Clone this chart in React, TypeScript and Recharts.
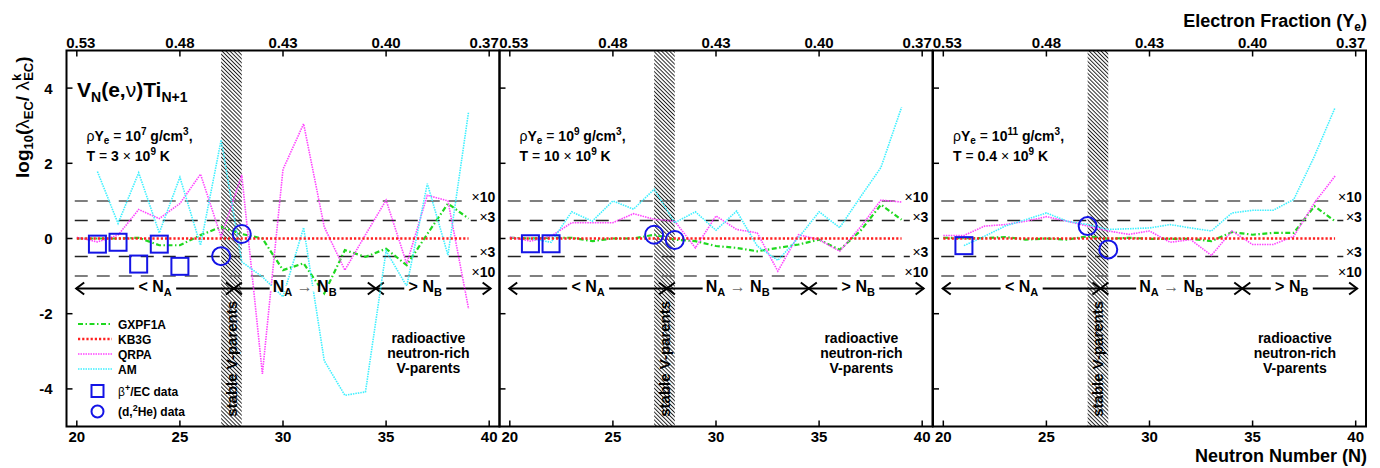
import React from "react";
import {
  ComposedChart,
  Line,
  ReferenceArea,
  ReferenceDot,
  ReferenceLine,
  XAxis,
  YAxis,
} from "recharts";

// neutron number of the V parent
const NEUTRONS = [20, 21, 22, 23, 24, 25, 26, 27, 28, 29, 30, 31, 32, 33, 34, 35, 36, 37, 38, 39];
const N_TICKS = [20, 25, 30, 35, 40];
const YE_TICK_LABELS = ["0.53", "0.48", "0.43", "0.40", "0.37"];
const Y_TICKS = [-4, -2, 0, 2, 4];

// KB3G is the reference (k), so its ratio is flat
const KB3G = [0, 0, 0, 0, 0, 0, 0, 0, 0, 0, 0, 0, 0, 0, 0, 0, 0, 0, 0, 0];

// panel 1: rhoYe = 1e7 g/cm3, T = 3e9 K
const GXPF1A_P1 = [0, 0, 0, 0.02, -0.18, -0.18, 0.09, 0.31, 0.12, 0, -0.84, -0.66, -1.46, -0.31, -0.49, -0.27, -0.71, 0.12, 0.93, 0.53];
const QRPA_P1 = [0.03, -0.09, 0.09, 0.77, 0.53, 0.93, 1.71, 0.04, 1.69, -3.6, 1.84, 3.05, 0.31, -0.84, 0.1, 1.02, -0.67, 1.15, 1.0, -1.87];
const AM_P1 = [null, 1.78, 0.4, 1.75, 0.15, 1.63, -0.18, 2.62, -0.62, -1.02, -1.55, 0.29, -3.25, -4.17, -4.08, -0.33, -1.27, 1.46, -0.44, 3.37];
const BETA_N_P1 = [21, 22, 23, 24, 25];
const BETA_P1 = [-0.15, -0.1, -0.68, -0.15, -0.74];
const DHE_N = [27, 28];
const DHE_P1 = [-0.47, 0.12];

// panel 2: rhoYe = 1e9 g/cm3, T = 10e9 K
const GXPF1A_P2 = [0.02, 0, 0.02, 0.02, -0.07, 0, 0, 0.1, -0.03, -0.07, -0.2, -0.25, -0.34, -0.25, -0.16, -0.03, -0.3, 0.2, 0.9, 0.5];
const QRPA_P2 = [0.04, -0.07, 0.06, 0.42, 0.42, 0.42, 0.66, 0.51, 0.46, -0.25, 0.6, 0.24, 0.15, -0.87, 0.1, -0.03, -0.34, 0.3, 1.02, 0.97];
const AM_P2 = [null, 0, -0.1, 0.71, 0.46, 1.0, 0.78, 1.31, 0.42, 0.71, 0.22, 0.73, -0.2, -0.58, 0.02, 0.71, 0.29, 1.1, 1.89, 3.49];
const BETA_N_P2 = [21, 22];
const BETA_P2 = [-0.14, -0.14];
const DHE_P2 = [0.1, -0.04];

// panel 3: rhoYe = 1e11 g/cm3, T = 0.4e9 K
const GXPF1A_P3 = [0.02, 0.01, 0.01, 0.04, -0.03, 0, -0.03, 0.06, -0.01, 0.02, -0.01, -0.01, -0.01, -0.07, 0.17, 0.1, 0.15, 0.15, 0.86, 0.46];
const QRPA_P3 = [0.08, 0.08, 0.33, 0.37, 0.46, 0.58, 0.46, 0.33, 0.2, 0.11, 0.2, -0.1, -0.03, -0.45, 0.2, -0.16, -0.16, 0.06, 0.95, 1.66];
const AM_P3 = [null, -0.19, 0.06, 0.33, 0.5, 0.68, 0.46, 0.37, 0.24, 0.26, 0.28, 0.37, 0.28, 0.2, 0.68, 0.75, 0.75, 1.04, 2.19, 3.48];
const BETA_N_P3 = [21];
const BETA_P3 = [-0.19];
const DHE_P3 = [0.33, -0.29];

const DENSITY_EXP = ["7", "9", "11"];
const TEMP_T9 = ["3", "10", "0.4"];

const W = 1380;
const H = 468;
const PLOT_TOP = 50.5;
const PLOT_BOTTOM = 426.5;
const PANEL_W = 433;
const PANEL_LEFTS = [66.5, 499.5, 933];
const Y_AXIS_W = 50;

const FONT = "'Liberation Sans', Arial, Helvetica, sans-serif";
const GREEN = "#1fd81f";
const RED = "#ff2020";
const MAGENTA = "#ff45ff";
const CYAN = "#3ff0ff";
const BLUE = "#1414e6";

const LOG3 = Math.log10(3);
const ARROW_Y = -1.33;

const GX_DASH = "5 2.5 1.5 2.5";
const DOT_DASH = "1.5 1";
const KB_DASH = "2.2 2";

const BottomTick = (props: any) => {
  const { x, y, payload } = props;
  return (
    <g>
      <line x1={x} x2={x} y1={y} y2={y - 6} stroke="#000" strokeWidth={1.5} />
      <text x={x} y={y + 15.5} textAnchor="middle" fontFamily={FONT} fontWeight="bold" fontSize={15} fill="#000">
        {payload.value}
      </text>
    </g>
  );
};

// the outermost Ye labels are nudged inwards so neighbouring panels don't collide
const TopTick = (props: any) => {
  const { x, y, payload } = props;
  const i = N_TICKS.indexOf(payload.value);
  const nudge = i === 0 ? 4 : i === N_TICKS.length - 1 ? -5 : 0;
  return (
    <g>
      <line x1={x} x2={x} y1={y} y2={y + 6} stroke="#000" strokeWidth={1.5} />
      <text x={x + nudge} y={y - 3} textAnchor="middle" fontFamily={FONT} fontWeight="bold" fontSize={15} fill="#000">
        {YE_TICK_LABELS[i]}
      </text>
    </g>
  );
};

const leftTick = (labeled: boolean) => (props: any) => {
  const { x, y, payload } = props;
  return (
    <g>
      <line x1={x} x2={x + 6} y1={y} y2={y} stroke="#000" strokeWidth={1.5} />
      {labeled && (
        <text x={x - 14} y={y} dy="0.36em" textAnchor="end" fontFamily={FONT} fontWeight="bold" fontSize={15} fill="#000">
          {payload.value}
        </text>
      )}
    </g>
  );
};

const SquareDot = (props: any) => {
  const { cx, cy, index } = props;
  if (cy == null || Number.isNaN(cy)) return <g key={index} />;
  return <rect key={index} x={cx - 8.5} y={cy - 8.5} width={17} height={17} fill="none" stroke={BLUE} strokeWidth={2} />;
};

const CircleDot = (props: any) => {
  const { cx, cy, index } = props;
  if (cy == null || Number.isNaN(cy)) return <g key={index} />;
  return <circle key={index} cx={cx} cy={cy} r={9} fill="none" stroke={BLUE} strokeWidth={2} />;
};

// double-headed arrow drawn between the segment ends
const ArrowLine = (props: any) => {
  const { x1, y1, x2, y2 } = props;
  const L = 8;
  const h = 6;
  return (
    <g stroke="#000" strokeWidth={2} fill="none">
      <line x1={x1} y1={y1} x2={x2} y2={y2} />
      <polyline points={`${x1 + L},${y1 - h} ${x1},${y1} ${x1 + L},${y1 + h}`} />
      <polyline points={`${x2 - L},${y2 - h} ${x2},${y2} ${x2 - L},${y2 + h}`} />
    </g>
  );
};

const rowLabel = (kind: "lt" | "mid" | "gt") => (props: any) => {
  const { cx, cy } = props;
  const w = kind === "mid" ? 70 : 42;
  return (
    <g fontFamily={FONT} fontWeight="bold" fill="#000">
      <rect x={cx - w / 2} y={cy - 2.5} width={w} height={5} fill="#fff" />
      <text x={cx} y={cy + 3.5} textAnchor="middle" fontSize={16}>
        {kind === "lt" && (
          <>
            {"< N"}
            <tspan dy={4} fontSize={11}>A</tspan>
          </>
        )}
        {kind === "gt" && (
          <>
            {"> N"}
            <tspan dy={4} fontSize={11}>B</tspan>
          </>
        )}
        {kind === "mid" && (
          <>
            {"N"}
            <tspan dy={4} fontSize={11}>A</tspan>
            <tspan dy={-4} fontWeight="normal" fill="#666">{" \u2192 "}</tspan>
            <tspan>N</tspan>
            <tspan dy={4} fontSize={11}>B</tspan>
          </>
        )}
      </text>
    </g>
  );
};

const factorLabel = (text: string) => (props: any) => {
  const { cx, cy } = props;
  const [mul, num] = [text.slice(0, 1), text.slice(1)];
  return (
    <text x={cx} y={cy - 4} dy="0.36em" textAnchor="end" fontFamily={FONT} fontSize={14} fill="#000">
      <tspan fontWeight="normal">{mul}</tspan>
      <tspan fontWeight="bold">{num}</tspan>
    </text>
  );
};

const StableLabel = (props: any) => {
  const { cx, cy } = props;
  return (
    <text
      transform={`translate(${cx + 5.5}, ${cy}) rotate(-90)`}
      textAnchor="middle"
      fontFamily={FONT}
      fontWeight="bold"
      fontSize={15}
      fill="#000"
    >
      stable V-parents
    </text>
  );
};

const RadioactiveLabel = (props: any) => {
  const { cx, cy } = props;
  return (
    <text textAnchor="middle" fontFamily={FONT} fontWeight="bold" fontSize={14} fill="#000">
      <tspan x={cx} y={cy - 10.5}>radioactive</tspan>
      <tspan x={cx} y={cy + 4.5}>neutron-rich</tspan>
      <tspan x={cx} y={cy + 19.5}>V-parents</tspan>
    </text>
  );
};

const FACTOR_LINES = [
  { v: 1, end: 39.0, label: "\u00d710", color: "#555" },
  { v: LOG3, end: 39.4, label: "\u00d73", color: "#222" },
  { v: -LOG3, end: 39.4, label: "\u00d73", color: "#222" },
  { v: -1, end: 39.0, label: "\u00d710", color: "#555" },
];

// arrowheads of neighbouring segments meet and form the X marks
const ARROW_SEGMENTS = [
  [19.97, 27.62],
  [27.62, 34.5],
  [34.5, 40.07],
];

type PanelProps = {
  index: number;
  gx: number[];
  qr: number[];
  am: (number | null)[];
  betaN: number[];
  beta: number[];
  dhe: number[];
};

const Panel = ({ index, gx, qr, am, betaN, beta, dhe }: PanelProps) => {
  const left = PANEL_LEFTS[index];
  const data = NEUTRONS.map((n, i) => {
    const b = betaN.indexOf(n);
    const d = DHE_N.indexOf(n);
    return {
      N: n,
      gx: gx[i],
      kb: KB3G[i],
      qr: qr[i],
      am: am[i],
      beta: b >= 0 ? beta[b] : null,
      dhe: d >= 0 ? dhe[d] : null,
    };
  });
  const hatchId = `hatch-${index}`;

  return (
    <div style={{ position: "absolute", left: 0, top: 0 }}>
      <ComposedChart
        width={W}
        height={H}
        data={data}
        margin={{ top: 0, bottom: 0, left: left - Y_AXIS_W, right: W - left - PANEL_W }}
      >
        <defs>
          <pattern id={hatchId} patternUnits="userSpaceOnUse" width={2.8} height={2.8} patternTransform="rotate(-45)">
            <rect width={2.8} height={2.8} fill="#fff" />
            <line x1={0.5} y1={0} x2={0.5} y2={2.8} stroke="#000" strokeWidth={0.85} />
          </pattern>
        </defs>
        <XAxis
          dataKey="N"
          type="number"
          domain={[19.5, 40.5]}
          ticks={N_TICKS}
          interval={0}
          allowDataOverflow
          height={H - PLOT_BOTTOM}
          axisLine={false}
          tickLine={false}
          tickSize={0}
          tickMargin={0}
          tick={BottomTick}
        />
        <XAxis
          xAxisId="top"
          orientation="top"
          dataKey="N"
          type="number"
          domain={[19.5, 40.5]}
          ticks={N_TICKS}
          interval={0}
          allowDataOverflow
          height={PLOT_TOP}
          axisLine={false}
          tickLine={false}
          tickSize={0}
          tickMargin={0}
          tick={TopTick}
        />
        <YAxis
          type="number"
          domain={[-5, 5]}
          ticks={Y_TICKS}
          interval={0}
          allowDataOverflow
          width={Y_AXIS_W}
          axisLine={false}
          tickLine={false}
          tickSize={0}
          tickMargin={0}
          tick={leftTick(index === 0)}
        />

        <ReferenceArea x1={27} x2={28} y1={-5} y2={5} fill={`url(#${hatchId})`} fillOpacity={1} stroke="none" />
        <ReferenceArea x1={19.5} x2={40.5} y1={-5} y2={5} fill="none" stroke="#000" strokeWidth={2} />

        {FACTOR_LINES.map((f, i) => (
          <ReferenceLine
            key={`f${i}`}
            segment={[{ x: 19.9, y: f.v }, { x: f.end, y: f.v }]}
            stroke={f.color}
            strokeWidth={1.5}
            strokeDasharray="13 9"
          />
        ))}
        {FACTOR_LINES.map((f, i) => (
          <ReferenceDot key={`fl${i}`} x={40.3} y={f.v} shape={factorLabel(f.label)} />
        ))}

        {ARROW_SEGMENTS.map(([a, b], i) => (
          <ReferenceLine key={`a${i}`} segment={[{ x: a, y: ARROW_Y }, { x: b, y: ARROW_Y }]} shape={ArrowLine} />
        ))}
        <ReferenceDot x={23.8} y={ARROW_Y} shape={rowLabel("lt")} />
        <ReferenceDot x={31.05} y={ARROW_Y} shape={rowLabel("mid")} />
        <ReferenceDot x={36.9} y={ARROW_Y} shape={rowLabel("gt")} />
        <ReferenceDot x={27.5} y={-3.2} shape={StableLabel} />
        <ReferenceDot x={37.05} y={-3.07} shape={RadioactiveLabel} />

        <Line dataKey="gx" stroke={GREEN} strokeWidth={2.2} strokeDasharray={GX_DASH} dot={false} isAnimationActive={false} />
        <Line dataKey="qr" stroke={MAGENTA} strokeWidth={1.6} strokeDasharray={DOT_DASH} dot={false} isAnimationActive={false} />
        <Line dataKey="am" stroke={CYAN} strokeWidth={1.6} strokeDasharray={DOT_DASH} dot={false} connectNulls={false} isAnimationActive={false} />
        <Line dataKey="kb" stroke={RED} strokeWidth={2.5} strokeDasharray={KB_DASH} dot={false} isAnimationActive={false} />
        <Line dataKey="beta" stroke="none" dot={SquareDot} activeDot={false} isAnimationActive={false} />
        <Line dataKey="dhe" stroke="none" dot={CircleDot} activeDot={false} isAnimationActive={false} />
      </ComposedChart>
    </div>
  );
};

const PANELS: PanelProps[] = [
  { index: 0, gx: GXPF1A_P1, qr: QRPA_P1, am: AM_P1, betaN: BETA_N_P1, beta: BETA_P1, dhe: DHE_P1 },
  { index: 1, gx: GXPF1A_P2, qr: QRPA_P2, am: AM_P2, betaN: BETA_N_P2, beta: BETA_P2, dhe: DHE_P2 },
  { index: 2, gx: GXPF1A_P3, qr: QRPA_P3, am: AM_P3, betaN: BETA_N_P3, beta: BETA_P3, dhe: DHE_P3 },
];

const LEGEND = [
  { name: "GXPF1A", color: GREEN, dash: GX_DASH, width: 2.2 },
  { name: "KB3G", color: RED, dash: KB_DASH, width: 2.5 },
  { name: "QRPA", color: MAGENTA, dash: DOT_DASH, width: 1.6 },
  { name: "AM", color: CYAN, dash: DOT_DASH, width: 1.6 },
];

const Overlay = () => (
  <svg
    width={W}
    height={H}
    style={{ position: "absolute", left: 0, top: 0, pointerEvents: "none" }}
    fontFamily={FONT}
    fontWeight="bold"
    fill="#000"
  >
    <text transform="translate(29, 178) rotate(-90)" fontSize={19}>
      log<tspan dy={4} fontSize={13}>10</tspan>
      <tspan dy={-4}>(</tspan>
      <tspan fontWeight="normal">λ</tspan>
      <tspan dy={4} fontSize={13}>EC</tspan>
      <tspan dy={-4}>/ </tspan>
      <tspan fontWeight="normal">λ</tspan>
      <tspan dy={-8} fontSize={13}>k</tspan>
      <tspan dx={-7} dy={12} fontSize={13}>EC</tspan>
      <tspan dy={-4}>)</tspan>
    </text>

    <text x={1367} y={27} textAnchor="end" fontSize={18}>
      Electron Fraction (Y<tspan dy={4} fontSize={12}>e</tspan>
      <tspan dy={-4}>)</tspan>
    </text>
    <text x={1367} y={462} textAnchor="end" fontSize={18}>
      Neutron Number (N)
    </text>

    <text x={77} y={97} fontSize={21}>
      V<tspan dy={5} fontSize={14}>N</tspan>
      <tspan dy={-5}>(e,</tspan>
      <tspan fontWeight="normal">ν</tspan>
      <tspan>)Ti</tspan>
      <tspan dy={5} fontSize={14}>N+1</tspan>
    </text>

    {PANEL_LEFTS.map((l, i) => (
      <g key={i}>
        <text x={l + 20} y={141} fontSize={14}>
          <tspan fontWeight="normal">ρ</tspan>Y<tspan dy={3} fontSize={10}>e</tspan>
          <tspan dy={-3} fontWeight="normal">{" = "}</tspan>10<tspan dy={-6} fontSize={10}>{DENSITY_EXP[i]}</tspan>
          <tspan dy={6}> g/cm</tspan>
          <tspan dy={-6} fontSize={10}>3</tspan>
          <tspan dy={6}>,</tspan>
        </text>
        <text x={l + 20} y={161} fontSize={14}>
          T<tspan fontWeight="normal">{" = "}</tspan>
          {TEMP_T9[i]}
          <tspan fontWeight="normal">{" \u00d7 "}</tspan>10<tspan dy={-6} fontSize={10}>9</tspan>
          <tspan dy={6}> K</tspan>
        </text>
      </g>
    ))}

    {LEGEND.map((e, i) => (
      <g key={e.name}>
        <line x1={78} x2={112} y1={324 + i * 15} y2={324 + i * 15} stroke={e.color} strokeWidth={e.width} strokeDasharray={e.dash} />
        <text x={118} y={328.5 + i * 15} fontSize={12}>
          {e.name}
        </text>
      </g>
    ))}
    <rect x={91.5} y={385} width={12} height={12} fill="none" stroke={BLUE} strokeWidth={2} />
    <text x={118} y={396} fontSize={12}>
      <tspan fontWeight="normal">β</tspan>
      <tspan dy={-5} fontSize={9}>+</tspan>
      <tspan dy={5}>/EC data</tspan>
    </text>
    <circle cx={97.5} cy={411.5} r={6} fill="none" stroke={BLUE} strokeWidth={2} />
    <text x={118} y={416} fontSize={12}>
      (d,<tspan dy={-5} fontSize={9}>2</tspan>
      <tspan dy={5}>He) data</tspan>
    </text>
  </svg>
);

export default function App() {
  return (
    <div style={{ position: "absolute", left: 0, top: 0, width: W, height: H, background: "#fff" }}>
      {PANELS.map((p) => (
        <Panel key={p.index} {...p} />
      ))}
      <Overlay />
    </div>
  );
}
